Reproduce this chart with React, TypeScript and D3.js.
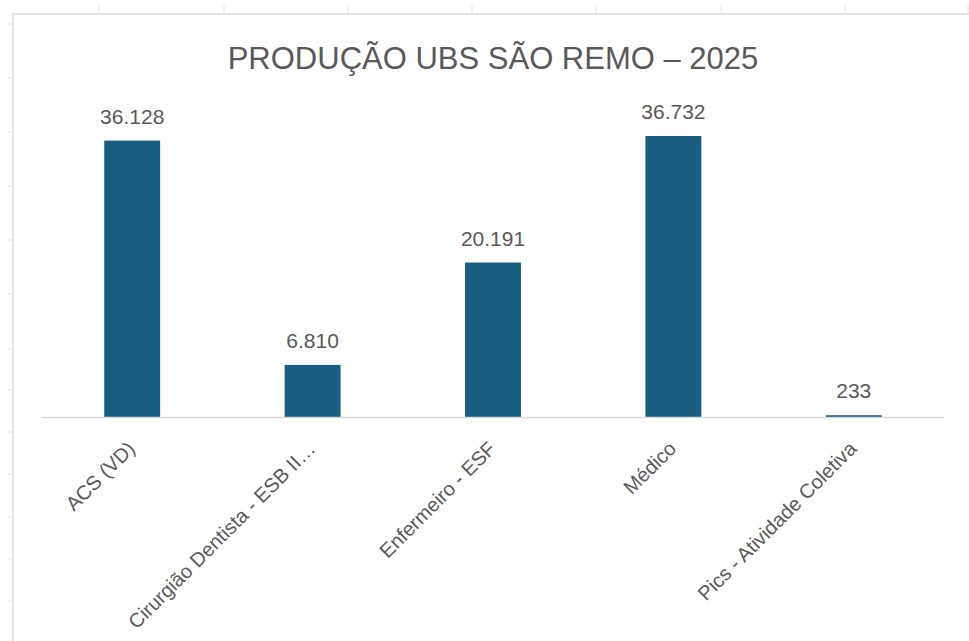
import { useRef, useEffect } from 'react'
import * as d3 from 'd3'

// dados
const categorias = [
  'ACS (VD)',
  'Cirurgião Dentista - ESB II…',
  'Enfermeiro - ESF',
  'Médico',
  'Pics - Atividade Coletiva',
]
const producao = [36128, 6810, 20191, 36732, 233]
const titulo = 'PRODUÇÃO UBS SÃO REMO – 2025'

// linhas da planilha que aparecem em volta do gráfico
const colunasPlanilha = [99, 224, 348, 472, 596, 721, 845, 968]
const linhasPlanilha = [24, 78, 132, 186, 240, 294, 349, 390, 432, 474, 517, 559, 601]

function App() {
  const chartRef = useRef<SVGSVGElement | null>(null)

  useEffect(() => {
    if (chartRef.current === null) {
      return
    }
    const width = 969
    const height = 641
    const font = '"Liberation Sans", Arial, sans-serif'
    const textColor = '#595959'
    const gridColor = '#d9d9d9'

    const svg = d3.select(chartRef.current)
    svg.selectAll('*').remove()
    svg.attr('width', width).attr('height', height)

    svg.append('rect')
      .attr('width', width)
      .attr('height', height)
      .attr('fill', '#ffffff')

    // moldura do gráfico e marcas das células
    const moldura = svg.append('g').attr('stroke', '#e3e3e3')
    moldura.selectAll('line.col')
      .data(colunasPlanilha)
      .join('line')
      .attr('class', 'col')
      .attr('x1', d => d).attr('x2', d => d)
      .attr('y1', 5).attr('y2', 14)
      .attr('stroke-width', 1)
    moldura.selectAll('line.row')
      .data(linhasPlanilha)
      .join('line')
      .attr('class', 'row')
      .attr('x1', 7).attr('x2', 13)
      .attr('y1', d => d).attr('y2', d => d)
      .attr('stroke-width', 1)
    moldura.append('line')
      .attr('x1', 12).attr('x2', width)
      .attr('y1', 14).attr('y2', 14)
      .attr('stroke-width', 2)
    moldura.append('line')
      .attr('x1', 13).attr('x2', 13)
      .attr('y1', 13).attr('y2', height)
      .attr('stroke-width', 2)

    const x = d3.scaleBand()
      .domain(categorias)
      .range([42, 944])
      .padding(0)
    const y = d3.scaleLinear()
      .domain([0, 40000])
      .range([417, 111])

    const barWidth = x.bandwidth() * 0.31
    const data = categorias.map((c, i) => ({ cat: c, value: producao[i] }))

    svg.append('text')
      .attr('x', 493)
      .attr('y', 69)
      .attr('text-anchor', 'middle')
      .attr('font-family', font)
      .attr('font-size', 31)
      .attr('fill', textColor)
      .text(titulo)

    svg.append('g')
      .selectAll('rect')
      .data(data)
      .join('rect')
      .attr('x', d => (x(d.cat) as number) + x.bandwidth() / 2 - barWidth / 2)
      .attr('width', barWidth)
      .attr('y', d => y(d.value))
      .attr('height', d => y(0) - y(d.value))
      .attr('fill', '#195e80')

    svg.append('line')
      .attr('x1', 42).attr('x2', 944)
      .attr('y1', y(0) + 0.5).attr('y2', y(0) + 0.5)
      .attr('stroke', gridColor)
      .attr('stroke-width', 1.5)

    svg.append('g')
      .selectAll('text')
      .data(data)
      .join('text')
      .attr('x', d => (x(d.cat) as number) + x.bandwidth() / 2)
      .attr('y', d => y(d.value) - 17)
      .attr('text-anchor', 'middle')
      .attr('font-family', font)
      .attr('font-size', 21)
      .attr('fill', textColor)
      .text(d => d.value.toLocaleString('pt-BR'))

    svg.append('g')
      .selectAll('text')
      .data(categorias)
      .join('text')
      .attr('transform', d => `translate(${(x(d) as number) + x.bandwidth() / 2 + 4},${450}) rotate(-45)`)
      .attr('text-anchor', 'end')
      .attr('font-family', font)
      .attr('font-size', 20)
      .attr('fill', textColor)
      .text(d => d)
  })

  return (
    <div style={{ position: 'absolute', left: 0, top: 0 }}>
      <svg ref={chartRef} style={{ display: 'block' }}></svg>
    </div>
  )
}

export default App
